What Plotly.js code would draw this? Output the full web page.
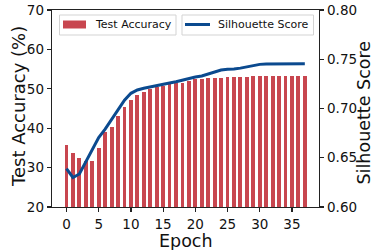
<!DOCTYPE html>
<html>
<head>
<meta charset="utf-8">
<script src="https://cdn.plot.ly/plotly-3.0.1.min.js"></script>
<style>html,body{margin:0;padding:0;background:#fff;}#chart{width:374px;height:250px;}</style>
</head>
<body>
<div id="chart"></div>
<script>
const epochs = [0,1,2,3,4,5,6,7,8,9,10,11,12,13,14,15,16,17,18,19,20,21,22,23,24,25,26,27,28,29,30,31,32,33,34,35,36,37];
const testAccuracy = [35.7,33.7,32.4,31.7,31.7,35.0,39.0,40.3,43.1,45.4,47.2,48.4,49.2,49.9,50.4,50.7,51.1,51.4,51.6,52.0,52.4,52.6,52.7,52.7,52.8,53.0,53.0,53.0,53.1,53.2,53.2,53.2,53.2,53.2,53.2,53.2,53.2,53.2];
const silhouette = [0.639,0.630,0.6335,0.646,0.658,0.6705,0.679,0.689,0.6985,0.7085,0.7154,0.7188,0.7205,0.722,0.7235,0.7248,0.7259,0.7272,0.729,0.7306,0.732,0.733,0.735,0.7375,0.739,0.7398,0.740,0.741,0.7424,0.7438,0.7448,0.7452,0.7453,0.7454,0.7455,0.7455,0.7455,0.7455];
const xTicks = [0,5,10,15,20,25,30,35];
const yLeftTicks = [20,30,40,50,60,70];
const yRightTicks = [0.60,0.65,0.70,0.75,0.80];
const seriesNames = ['Test Accuracy','Silhouette Score'];
const axisTitles = ['Epoch','Test Accuracy (%)','Silhouette Score'];

const FONT = "DejaVu Sans";
const BAR_COLOR = '#c8464f';
const LINE_COLOR = '#0b4a8f';

// plot area in px: x 52..319, y 10..207
const L = 52, R = 319, T = 10, B = 207;
const px = v => (v - L) / (R - L);
const py = v => (B - v) / (B - T);

const traces = [
  {type:'bar', x:epochs, y:testAccuracy, name:seriesNames[0], width:0.6,
   marker:{color:BAR_COLOR, line:{width:0}}, yaxis:'y', showlegend:false},
  {type:'scatter', mode:'lines', x:epochs, y:silhouette, name:seriesNames[1],
   line:{color:LINE_COLOR, width:3}, yaxis:'y2', showlegend:false}
];
const axisCommon = {showgrid:false, zeroline:false, showline:true, linecolor:'#222', linewidth:1.3,
  ticks:'outside', ticklen:4, tickwidth:1.2, tickcolor:'#222',
  tickfont:{family:FONT, size:13.5, color:'#111'}, automargin:false, fixedrange:true};

const legendBox = (x0, x1) => ({type:'rect', xref:'paper', yref:'paper', x0:px(x0), x1:px(x1), y0:py(35), y1:py(15),
  fillcolor:'rgba(255,255,255,0.9)', line:{color:'#d3d3d3', width:1}, layer:'above'});

const shapes = [
  legendBox(59.5, 176),
  {type:'rect', xref:'paper', yref:'paper', x0:px(63), x1:px(86), y0:py(28.5), y1:py(20.5),
   fillcolor:BAR_COLOR, line:{width:0}, layer:'above'},
  legendBox(182, 313.5),
  {type:'line', xref:'paper', yref:'paper', x0:px(185), x1:px(210), y0:py(24.5), y1:py(24.5),
   line:{color:LINE_COLOR, width:3}, layer:'above'}
];
const annotations = [
  {xref:'paper', yref:'paper', x:px(92.5), y:py(24.5), xanchor:'left', yanchor:'middle', showarrow:false,
   text:seriesNames[0], font:{family:FONT, size:11, color:'#111'}},
  {xref:'paper', yref:'paper', x:px(215.5), y:py(24.5), xanchor:'left', yanchor:'middle', showarrow:false,
   text:seriesNames[1], font:{family:FONT, size:11, color:'#111'}},
  {xref:'paper', yref:'paper', x:px(18), y:py(107), xanchor:'center', yanchor:'middle', showarrow:false,
   textangle:-90, text:axisTitles[1], font:{family:FONT, size:18, color:'#111'}},
  {xref:'paper', yref:'paper', x:px(363), y:py(112.5), xanchor:'center', yanchor:'middle', showarrow:false,
   textangle:-90, text:axisTitles[2], font:{family:FONT, size:17.5, color:'#111'}},
  {xref:'paper', yref:'paper', x:px(185.5), y:py(241), xanchor:'center', yanchor:'middle', showarrow:false,
   text:axisTitles[0], font:{family:FONT, size:17.5, color:'#111'}}
];

const layout = {
  width:374, height:250,
  margin:{l:L, r:374-R, t:T, b:250-B, pad:0},
  paper_bgcolor:'#fff', plot_bgcolor:'#fff',
  font:{family:FONT, color:'#111'},
  bargap:0,
  showlegend:false,
  xaxis:Object.assign({}, axisCommon, {range:[-2.25,39.2], tickvals:xTicks, mirror:true}),
  yaxis:Object.assign({}, axisCommon, {range:[20,70], tickvals:yLeftTicks}),
  yaxis2:Object.assign({}, axisCommon, {range:[0.6,0.8], tickvals:yRightTicks, tickformat:'.2f',
    overlaying:'y', side:'right'}),
  shapes:shapes,
  annotations:annotations
};
Plotly.newPlot('chart', traces, layout, {displayModeBar:false, staticPlot:true});
</script>
</body>
</html>
